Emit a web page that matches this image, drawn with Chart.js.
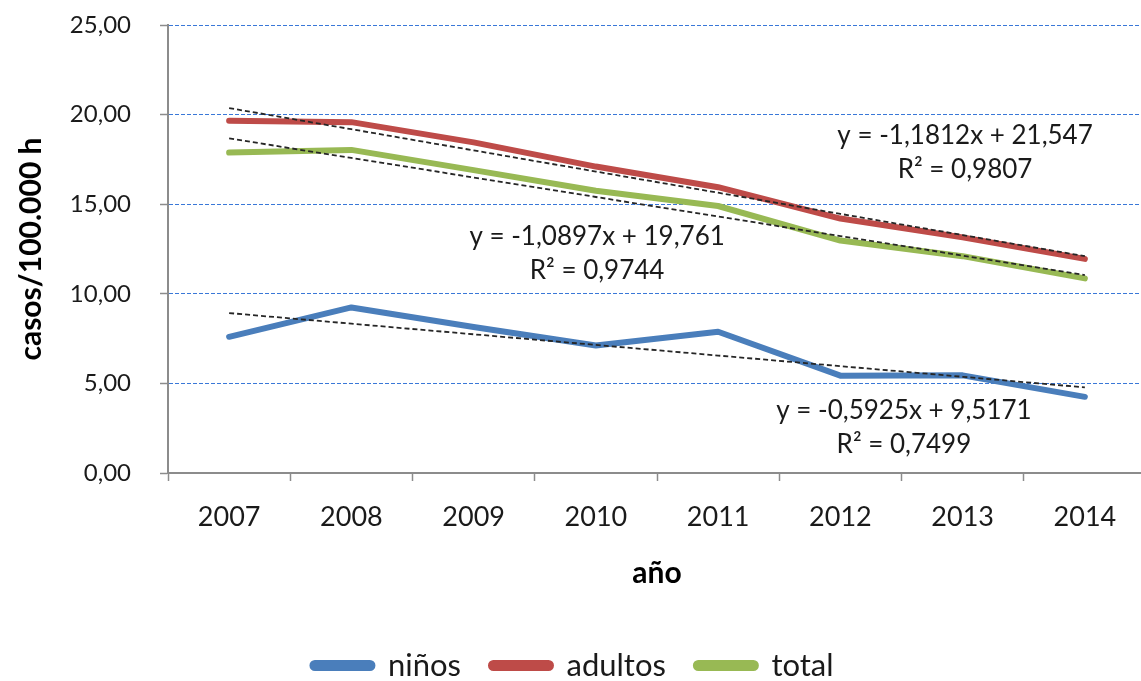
<!DOCTYPE html>
<html>
<head>
<meta charset="utf-8">
<script src="https://cdn.jsdelivr.net/npm/chart.js@4/dist/chart.umd.min.js"></script>
<style>
  html, body { margin: 0; padding: 0; background: #fff; overflow: hidden; width: 1141px; height: 681px; }
  canvas { display: block; }
</style>
</head>
<body>
<canvas id="chart" width="1152" height="691"></canvas>
<script>
// Incidence per 100.000 inhabitants, by year
const years = ['2007', '2008', '2009', '2010', '2011', '2012', '2013', '2014'];
const ninos   = [7.60, 9.24, 8.15, 7.12, 7.88, 5.43, 5.45, 4.25];
const adultos = [19.66, 19.58, 18.45, 17.10, 15.95, 14.20, 13.15, 11.95];
const total   = [17.88, 18.03, 16.90, 15.75, 14.90, 12.97, 12.10, 10.86];

const seriesNames = ['niños', 'adultos', 'total'];

// Linear trend fits (x = 1..8) as printed on the chart
const trendSlopes     = [-0.5925, -1.1812, -1.0897];
const trendIntercepts = [9.5171, 21.547, 19.761];
const trendR2         = [0.7499, 0.9807, 0.9744];

const yTickValues = [0, 5, 10, 15, 20, 25];

const FONT = 'Lato, "Open Sans", sans-serif';
const COLORS = ['#4A7EBB', '#BE4B48', '#98B954'];
const AXIS_GREY = '#8c8c8c';
const GRID_BLUE = '#3a78d8';

const fmt = v => String(v).replace('.', ',');

function trendPoints(k) {
  return years.map((_, i) => trendSlopes[k] * (i + 1) + trendIntercepts[k]);
}

// Equation / R² boxes, anchored in axis units (category index, value)
const eqAnchors = [
  { series: 0, x: 5.52, y: 3.50 },
  { series: 1, x: 6.02, y: 18.80 },
  { series: 2, x: 3.01, y: 13.17 }
];

const trendLabelPlugin = {
  id: 'trendLabels',
  afterDatasetsDraw(chart) {
    const { ctx, scales: { x, y } } = chart;
    ctx.save();
    ctx.font = '26px ' + FONT;
    ctx.fillStyle = '#1a1a1a';
    ctx.textAlign = 'center';
    ctx.textBaseline = 'middle';
    eqAnchors.forEach(a => {
      const k = a.series;
      const px = x.getPixelForValue(a.x);
      const py = y.getPixelForValue(a.y);
      const sign = trendIntercepts[k] >= 0 ? '+' : '-';
      const line1 = 'y = ' + fmt(trendSlopes[k]) + 'x ' + sign + ' ' + fmt(Math.abs(trendIntercepts[k]));
      const line2 = 'R² = ' + fmt(trendR2[k]);
      ctx.fillText(line1, px, py);
      ctx.fillText(line2, px, py + 34);
    });
    ctx.restore();
  }
};

const seriesData = [ninos, adultos, total];

const datasets = [];
seriesData.forEach((d, k) => {
  datasets.push({
    label: seriesNames[k],
    data: d,
    borderColor: COLORS[k],
    backgroundColor: COLORS[k],
    borderWidth: 6,
    borderCapStyle: 'round',
    borderJoinStyle: 'round',
    pointRadius: 0,
    pointHoverRadius: 0,
    tension: 0,
    order: 2
  });
});
seriesData.forEach((d, k) => {
  datasets.push({
    label: 'trend-' + seriesNames[k],
    data: trendPoints(k),
    borderColor: '#262626',
    borderWidth: 1.8,
    borderDash: [5, 3],
    pointRadius: 0,
    pointHoverRadius: 0,
    tension: 0,
    order: 1
  });
});

new Chart(document.getElementById('chart'), {
  type: 'line',
  data: { labels: years, datasets },
  plugins: [trendLabelPlugin],
  options: {
    responsive: false,
    animation: false,
    layout: { padding: { top: 25, right: 6, bottom: 0, left: 0 } },
    plugins: {
      tooltip: { enabled: false },
      legend: {
        position: 'bottom',
        labels: {
          filter: item => !item.text.startsWith('trend-'),
          boxWidth: 60,
          boxHeight: 5,
          useBorderRadius: true,
          borderRadius: 2.5,
          padding: 30,
          color: '#1a1a1a',
          font: { family: FONT, size: 31 }
        }
      }
    },
    scales: {
      x: {
        type: 'category',
        offset: true,
        afterFit: s => { s.height = 147; },
        grid: {
          display: true,
          offset: true,
          drawOnChartArea: false,
          drawTicks: true,
          tickLength: 8,
          tickColor: AXIS_GREY,
          tickWidth: 1.5
        },
        border: { display: true, color: AXIS_GREY, width: 2 },
        ticks: {
          color: '#1a1a1a',
          padding: 20,
          maxRotation: 0,
          font: { family: FONT, size: 27 }
        },
        title: {
          display: true,
          text: 'año',
          color: '#000',
          font: { family: FONT, size: 30, weight: 'bold' },
          padding: { top: 0, bottom: 29 }
        }
      },
      y: {
        min: 0,
        max: 25,
        afterFit: s => { s.width = 168; s.paddingTop = 0; s.paddingBottom = 0; },
        afterBuildTicks: s => { s.ticks = yTickValues.map(v => ({ value: v })); },
        grid: {
          color: ctx => (ctx.tick && ctx.tick.value === 0) ? 'rgba(0,0,0,0)' : GRID_BLUE,
          lineWidth: 1,
          drawTicks: true,
          tickLength: 8,
          tickColor: AXIS_GREY,
          tickWidth: 1.5,
          tickBorderDash: []
        },
        border: { display: true, color: AXIS_GREY, width: 2, dash: [4, 2] },
        ticks: {
          color: '#1a1a1a',
          padding: 29,
          font: { family: FONT, size: 24 },
          callback: v => Number(v).toFixed(2).replace('.', ',')
        },
        title: {
          display: true,
          text: 'casos/100.000 h',
          color: '#000',
          font: { family: FONT, size: 30, weight: 'bold' },
          padding: { top: 13, bottom: 0 }
        }
      }
    }
  }
});
</script>
</body>
</html>
